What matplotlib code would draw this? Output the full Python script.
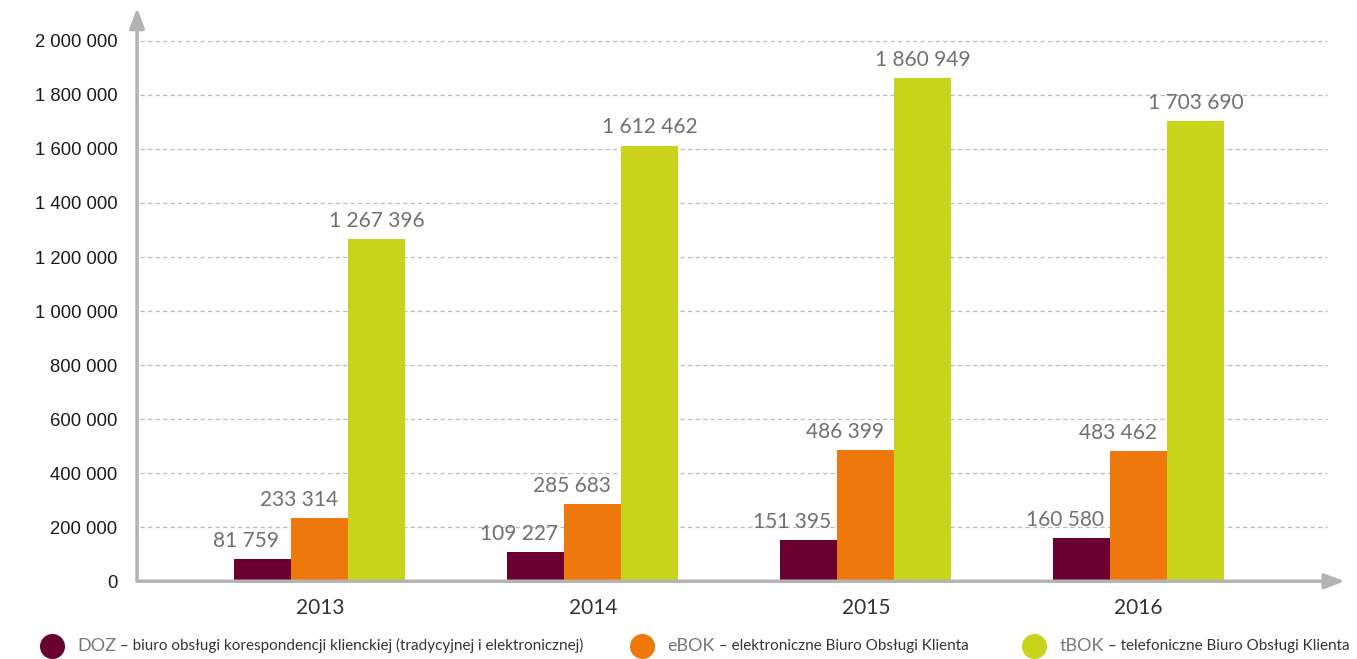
import numpy as np
import matplotlib
matplotlib.use("Agg")
import matplotlib.pyplot as plt
from matplotlib.lines import Line2D

# --- dane ---
years = ["2013", "2014", "2015", "2016"]
doz = [81759, 109227, 151395, 160580]
ebok = [233314, 285683, 486399, 483462]
tbok = [1267396, 1612462, 1860949, 1703690]
y_ticks = [0, 200000, 400000, 600000, 800000, 1000000, 1200000, 1400000,
           1600000, 1800000, 2000000]
legend_short = ["DOZ", "eBOK", "tBOK"]
legend_long = ["biuro obsługi korespondencji klienckiej (tradycyjnej i elektronicznej)",
               "elektroniczne Biuro Obsługi Klienta",
               "telefoniczne Biuro Obsługi Klienta"]

C_DOZ = "#6a0032"
C_EBOK = "#ee780c"
C_TBOK = "#c8d41b"
AXIS_C = "#b3b3b3"

def fmt(v):
    return f"{v:,}".replace(",", " ")

fig = plt.figure(figsize=(13.57, 6.59), dpi=100)
ax = fig.add_axes([0.101, 0.118, 0.890, 0.870])

x = np.arange(len(years))
w = 0.209
series = [(doz, C_DOZ, -w, -0.062), (ebok, C_EBOK, 0, -0.075), (tbok, C_TBOK, w, 0.0)]

# siatka
for t in y_ticks[1:]:
    ax.hlines(t, -0.66, 3.69, colors="#aebfc7", linestyles=(0, (3.5, 2.5)), linewidth=0.9, zorder=0)

for vals, col, off, loff in series:
    ax.bar(x + off, vals, width=w, color=col, zorder=2)
    for xi, v in zip(x, vals):
        ax.text(xi + off + loff, v + 30000, fmt(v), ha="center", va="bottom",
                fontsize=15, family="Lato", color="#707070", zorder=3)

ax.set_xlim(-0.67, 3.755)
ax.set_ylim(0, 2122000)
ax.set_yticks(y_ticks)
ax.set_yticklabels([fmt(t) for t in y_ticks], family="Liberation Sans", fontsize=13.3, color="#1a1a1a")
ax.set_xticks(x)
ax.set_xticklabels(years, family="Lato", fontsize=15, color="#333333")
ax.tick_params(axis="y", length=0, pad=14)
ax.tick_params(axis="x", length=0, pad=12)
for s in ax.spines.values():
    s.set_visible(False)

# osie ze strzałkami
arrow = dict(arrowstyle="-|>,head_length=1.2,head_width=0.45", color=AXIS_C, lw=2.5,
             shrinkA=0, shrinkB=0)
ax.annotate("", xy=(1, 0), xytext=(0, 0), xycoords="axes fraction", arrowprops=arrow,
            annotation_clip=False)
ax.annotate("", xy=(0, 1), xytext=(0, 0), xycoords="axes fraction", arrowprops=arrow,
            annotation_clip=False)

# legenda
leg_x = [0.038, 0.473, 0.762]
for lx, col, short, long_ in zip(leg_x, [C_DOZ, C_EBOK, C_TBOK], legend_short, legend_long):
    fig.add_artist(Line2D([lx], [0.020], marker="o", markersize=17, color=col,
                          transform=fig.transFigure, linestyle="none"))
    t = fig.text(lx + 0.019, 0.020, short, family="Lato",
                 fontsize=13, color="#777777", va="center")
    fig.canvas.draw()
    bb = t.get_window_extent()
    fig.text(bb.x1 / fig.bbox.width, 0.020, " – " + long_, family="Lato",
             fontsize=11, color="#333333", va="center")

fig.savefig("out.png", dpi=100)
